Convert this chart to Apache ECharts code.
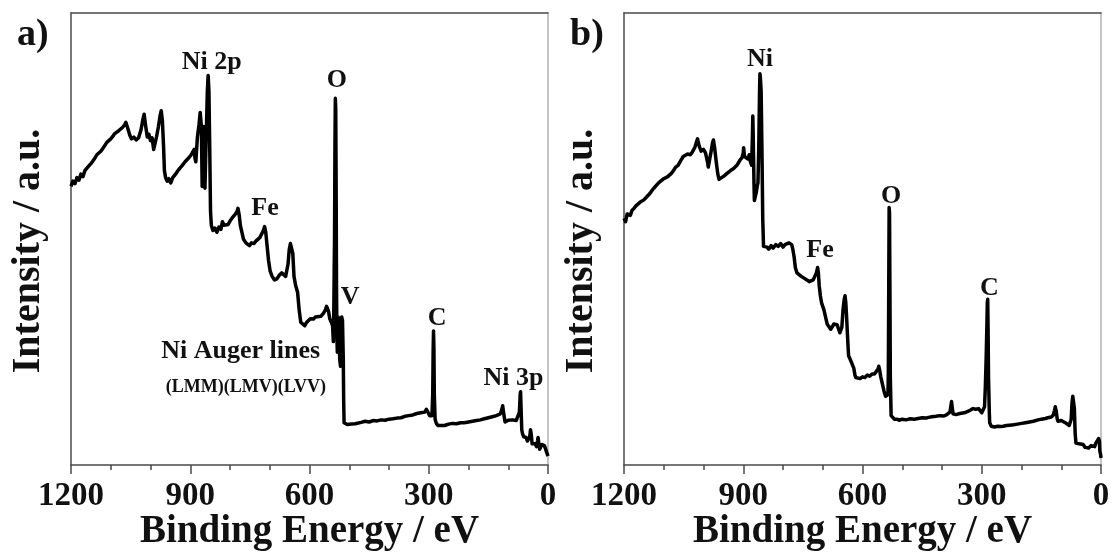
<!DOCTYPE html>
<html>
<head>
<meta charset="utf-8">
<script src="https://cdn.jsdelivr.net/npm/echarts@6/dist/echarts.min.js"></script>
<style>
  html, body { margin: 0; padding: 0; background: #fff; }
  #chart { width: 1112px; height: 552px; }
</style>
</head>
<body>
<div id="chart"></div>
<script>
// XPS survey spectra: [binding energy (eV), intensity (a.u.)]
const surveyA = [
  [1200, 790], [1195, 805], [1190, 798], [1185, 815], [1180, 808], [1175, 825], [1170, 818], [1165, 835],
  [1160, 842], [1155, 838], [1150, 855], [1145, 862], [1140, 870], [1135, 880], [1130, 876], [1125, 890],
  [1120, 898], [1115, 906], [1110, 915], [1105, 912], [1100, 925], [1095, 932], [1090, 940], [1085, 936],
  [1080, 948], [1075, 952], [1070, 958], [1065, 965], [1062, 972], [1058, 958], [1052, 935], [1048, 925],
  [1042, 930], [1036, 922], [1030, 928], [1024, 950], [1020, 975], [1016, 995], [1012, 960], [1008, 930],
  [1004, 938], [1000, 920], [996, 928], [992, 895], [989, 890], [985, 930], [980, 960], [976, 990],
  [973, 1005], [970, 975], [967, 900], [965, 835], [962, 815], [958, 805], [954, 812], [949, 800],
  [944, 815], [940, 820], [935, 828], [931, 835], [926, 842], [920, 850], [913, 860], [908, 865],
  [903, 872], [899, 878], [895, 885], [890, 895], [888, 870], [886, 860], [884, 895], [882, 930],
  [878, 965], [875, 1000], [872, 960], [870, 790], [868, 840], [866, 960], [864, 870], [863, 785],
  [861, 880], [859, 970], [857, 1060], [855, 1105], [853, 1060], [851, 900], [849, 720], [847, 680],
  [843, 665], [838, 672], [833, 660], [828, 675], [823, 668], [819, 690], [815, 680], [810, 685],
  [805, 682], [800, 692], [795, 700], [790, 705], [786, 712], [782, 720], [780, 728], [777, 710],
  [774, 680], [770, 660], [766, 640], [760, 630], [755, 628], [751, 622], [746, 630], [740, 628],
  [735, 635], [730, 640], [725, 645], [720, 650], [716, 665], [713, 676], [710, 660], [707, 625],
  [703, 580], [699, 550], [694, 535], [688, 525], [682, 528], [676, 538], [670, 545], [665, 540],
  [660, 535], [657, 538], [654, 570], [651, 610], [648, 628], [645, 632], [642, 600], [639, 535],
  [635, 510], [630, 490], [626, 440], [622, 405], [617, 400], [612, 395], [607, 405], [602, 410],
  [598, 415], [590, 414], [585, 420], [580, 418], [571, 422], [565, 430], [560, 440], [557, 450],
  [555, 455], [552, 435], [549, 415], [545, 405], [542, 395], [540, 350], [539, 420], [538, 540],
  [537, 640], [536, 900], [535, 1040], [534, 1010], [533, 800], [532, 500], [531, 360], [530, 320],
  [528, 420], [526, 400], [524, 300], [522, 280], [520, 380], [519, 420], [517, 410], [515, 300],
  [514, 180], [513, 120], [510, 118], [505, 115], [500, 118], [495, 116], [490, 120], [485, 117],
  [480, 120], [470, 121], [460, 124], [450, 122], [440, 126], [430, 125], [420, 128], [410, 127],
  [400, 130], [390, 131], [380, 133], [370, 134], [360, 138], [350, 140], [340, 142], [330, 146],
  [320, 148], [315, 152], [310, 150], [306, 158], [302, 150], [298, 140], [295, 135], [292, 140],
  [290, 200], [289, 320], [288, 380], [287, 330], [286, 200], [284, 130], [281, 118], [277, 112],
  [274, 108], [270, 112], [265, 114], [260, 112], [256, 115], [250, 116], [240, 118], [230, 117],
  [220, 120], [211, 120], [200, 122], [190, 124], [180, 126], [170, 128], [166, 130], [160, 131],
  [150, 134], [140, 137], [130, 140], [125, 138], [120, 145], [116, 158], [114, 168], [112, 150],
  [108, 122], [104, 125], [100, 127], [95, 130], [90, 128], [85, 130], [80, 126], [75, 128],
  [72, 150], [70, 200], [69, 208], [68, 170], [66, 100], [64, 88], [61, 80], [58, 75],
  [55, 78], [52, 68], [49, 65], [46, 80], [44, 100], [42, 85], [40, 60], [38, 55],
  [35, 58], [32, 60], [29, 52], [26, 70], [25, 78], [23, 60], [21, 45], [18, 52],
  [15, 58], [12, 55], [9, 55], [6, 45], [4, 38], [2, 40], [0, 25]
];

const surveyB = [
  [1200, 700], [1196, 690], [1192, 712], [1189, 715], [1184, 708], [1180, 722], [1175, 728], [1170, 735],
  [1166, 740], [1160, 745], [1155, 742], [1150, 752], [1145, 758], [1140, 762], [1135, 770], [1130, 778],
  [1125, 785], [1120, 790], [1113, 800], [1108, 805], [1100, 812], [1095, 815], [1090, 818], [1086, 822],
  [1080, 828], [1075, 836], [1070, 845], [1064, 850], [1058, 862], [1051, 875], [1046, 872], [1040, 882],
  [1033, 880], [1028, 888], [1022, 900], [1018, 915], [1015, 925], [1011, 905], [1006, 890], [1000, 895],
  [995, 885], [990, 860], [988, 845], [984, 870], [980, 895], [977, 915], [975, 922], [972, 900],
  [968, 860], [964, 825], [961, 810], [955, 815], [948, 820], [940, 828], [932, 835], [925, 840],
  [916, 850], [908, 865], [903, 872], [900, 885], [899, 900], [897, 875], [893, 880], [888, 868],
  [885, 880], [882, 860], [879, 850], [877, 930], [876, 990], [875, 940], [873, 800], [872, 750],
  [870, 760], [867, 775], [865, 790], [863, 800], [861, 900], [859, 1060], [858, 1110], [857, 1100],
  [855, 1060], [853, 900], [851, 700], [849, 620], [845, 615], [840, 618], [836, 612], [830, 622],
  [825, 615], [818, 625], [812, 620], [806, 628], [800, 618], [795, 625], [790, 622], [785, 630],
  [782, 632], [778, 625], [775, 610], [772, 590], [769, 560], [765, 545], [760, 540], [754, 535],
  [747, 530], [740, 525], [734, 520], [729, 518], [724, 525], [720, 535], [716, 545], [713, 560],
  [711, 545], [709, 510], [706, 480], [703, 460], [700, 450], [697, 440], [693, 420], [689, 400],
  [685, 395], [680, 385], [676, 392], [672, 400], [668, 405], [664, 398], [660, 385], [657, 375],
  [654, 370], [652, 390], [649, 440], [646, 470], [644, 480], [642, 460], [640, 420], [637, 350],
  [635, 310], [631, 300], [626, 295], [622, 275], [619, 255], [617, 248], [612, 250], [606, 245],
  [600, 250], [594, 248], [588, 255], [582, 252], [576, 258], [570, 258], [565, 262], [561, 272],
  [559, 280], [557, 270], [554, 250], [550, 230], [546, 210], [542, 195], [539, 190], [536, 200],
  [535, 260], [534, 500], [533, 730], [532, 715], [531, 500], [530, 250], [528, 140], [525, 135],
  [520, 130], [514, 130], [508, 127], [500, 130], [490, 128], [480, 131], [470, 130], [460, 132],
  [450, 134], [440, 133], [434, 135], [425, 137], [415, 138], [405, 140], [395, 139], [389, 142],
  [384, 143], [380, 150], [377, 172], [376, 180], [374, 160], [372, 145], [365, 143], [355, 146],
  [344, 148], [335, 152], [328, 156], [322, 160], [315, 158], [308, 160], [304, 155], [300, 148],
  [296, 150], [293, 165], [291, 220], [289, 300], [287, 400], [286, 460], [285, 470], [284, 380],
  [283, 250], [281, 150], [280, 120], [276, 110], [273, 105], [268, 108], [260, 110], [252, 109],
  [246, 110], [238, 112], [230, 113], [220, 114], [210, 116], [200, 118], [190, 120], [180, 122],
  [170, 124], [165, 126], [158, 128], [150, 130], [140, 132], [134, 134], [130, 135], [125, 136],
  [120, 142], [117, 155], [115, 165], [113, 155], [110, 130], [108, 124], [104, 122], [100, 126],
  [95, 122], [90, 120], [85, 118], [80, 112], [77, 110], [75, 130], [73, 175], [71, 195],
  [69, 190], [67, 160], [65, 90], [63, 62], [60, 58], [55, 60], [50, 55], [45, 58],
  [40, 50], [35, 52], [31, 48], [25, 55], [20, 58], [16, 52], [13, 62], [10, 60],
  [6, 75], [4, 68], [3, 40], [1, 30], [0, 20]
];

// Peak assignments and where each caption sits (binding energy, intensity)
const peakNamesA = ['Ni 2p', 'O', 'Fe', 'V', 'C', 'Ni Auger lines', '(LMM)(LMV)(LVV)', 'Ni 3p'];
const peakAnchorsA = [[846, 1143], [531, 1092], [712, 729], [498, 476], [279, 417], [773, 323], [760, 221], [87, 247]];
const peakNamesB = ['Ni', 'Fe', 'O', 'C'];
const peakAnchorsB = [[858, 1151], [707, 610], [528, 763], [281, 502]];

const panelLetters = ['a)', 'b)'];
const energyTicks = [0, 300, 600, 900, 1200];
const xName = 'Binding Energy / eV';
const yName = 'Intensity / a.u.';

const serif = '"Liberation Serif", "Times New Roman", serif';
const axisGrey = '#4a4a4a';
const Y_MAX = 1282;

function makeMarks(names, anchors) {
  return names.map((n, i) => ({
    coord: anchors[i],
    value: n,
    label: {
      show: true,
      formatter: n,
      fontFamily: serif,
      fontWeight: 'bold',
      fontSize: n.startsWith('(') ? 18 : 26,
      color: '#111'
    }
  }));
}

function xAxisFor(gridIndex) {
  return {
    type: 'value',
    gridIndex,
    inverse: true,
    min: 0,
    max: 1200,
    interval: 300,
    name: xName,
    nameLocation: 'middle',
    nameGap: 47,
    nameMoveOverlap: false,
    nameTextStyle: { fontFamily: serif, fontWeight: 'bold', fontSize: 39, color: '#111' },
    axisLine: { show: true, onZero: false, lineStyle: { color: axisGrey, width: 1.5 } },
    axisTick: { show: true, length: 9, lineStyle: { color: axisGrey, width: 1.5 } },
    minorTick: { show: true, splitNumber: 3, length: 5, lineStyle: { color: axisGrey, width: 1.5 } },
    axisLabel: {
      margin: 15,
      fontFamily: serif, fontWeight: 'bold', fontSize: 33, color: '#111',
      formatter: v => energyTicks.includes(v) ? String(v) : ''
    },
    splitLine: { show: false }
  };
}

function topAxisFor(gridIndex) {
  return {
    type: 'value', gridIndex, position: 'top', inverse: true, min: 0, max: 1200,
    axisLine: { show: true, onZero: false, lineStyle: { color: axisGrey, width: 1.5 } },
    axisTick: { show: false }, axisLabel: { show: false }, splitLine: { show: false }
  };
}

function yAxisFor(gridIndex) {
  return {
    type: 'value',
    gridIndex,
    min: 0,
    max: Y_MAX,
    name: yName,
    nameLocation: 'middle',
    nameGap: 22,
    nameMoveOverlap: false,
    nameTextStyle: {
      fontFamily: serif, fontWeight: 'bold', fontSize: 40, color: '#111',
      padding: [0, 24, 0, 0]
    },
    axisLine: { show: true, onZero: false, lineStyle: { color: axisGrey, width: 1.5 } },
    axisTick: { show: false },
    axisLabel: { show: false },
    splitLine: { show: false }
  };
}

function rightAxisFor(gridIndex) {
  return {
    type: 'value', gridIndex, position: 'right', min: 0, max: Y_MAX,
    axisLine: { show: true, onZero: false, lineStyle: { color: '#b0b0b0', width: 1.5 } },
    axisTick: { show: false }, axisLabel: { show: false }, splitLine: { show: false }
  };
}

function spectrumSeries(data, idx, names, anchors) {
  return {
    type: 'line',
    xAxisIndex: idx,
    yAxisIndex: idx,
    data,
    showSymbol: false,
    animation: false,
    lineStyle: { color: '#000', width: 3.5, join: 'round' },
    markPoint: {
      symbol: 'circle',
      symbolSize: 0,
      animation: false,
      label: { position: 'inside' },
      data: makeMarks(names, anchors)
    }
  };
}

const chart = echarts.init(document.getElementById('chart'), null, { renderer: 'canvas' });
chart.setOption({
  backgroundColor: '#fff',
  animation: false,
  title: [
    { text: panelLetters[0], left: 12, top: 11, textStyle: { fontFamily: serif, fontWeight: 'bold', fontSize: 38, color: '#111' } },
    { text: panelLetters[1], left: 565, top: 11, textStyle: { fontFamily: serif, fontWeight: 'bold', fontSize: 38, color: '#111' } }
  ],
  grid: [
    { left: 71, top: 13, width: 477, height: 452, containLabel: false, outerBoundsMode: 'none' },
    { left: 624, top: 13, width: 477, height: 452, containLabel: false, outerBoundsMode: 'none' }
  ],
  xAxis: [xAxisFor(0), xAxisFor(1), topAxisFor(0), topAxisFor(1)],
  yAxis: [yAxisFor(0), yAxisFor(1), rightAxisFor(0), rightAxisFor(1)],
  series: [
    spectrumSeries(surveyA, 0, peakNamesA, peakAnchorsA),
    spectrumSeries(surveyB, 1, peakNamesB, peakAnchorsB)
  ]
});
</script>
</body>
</html>
